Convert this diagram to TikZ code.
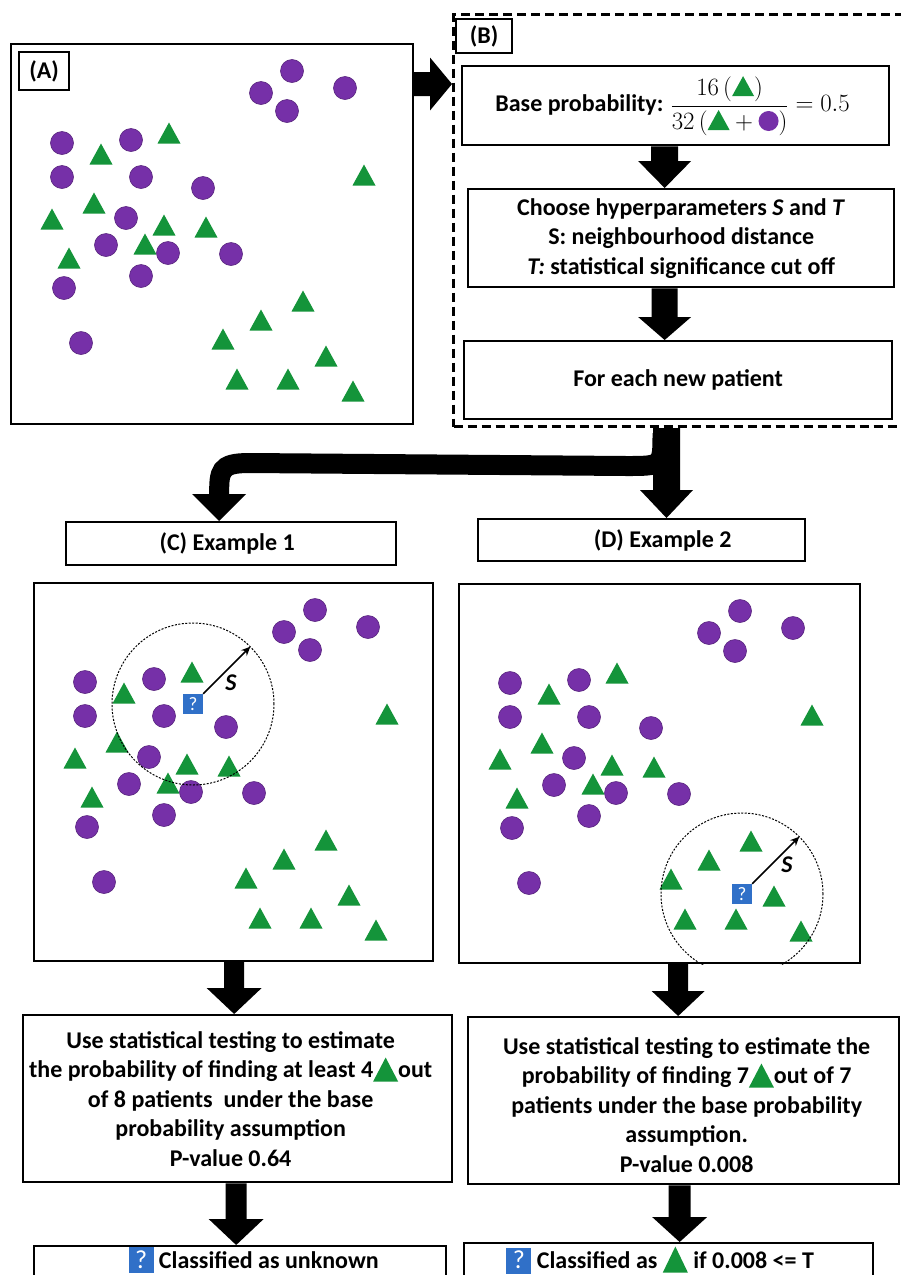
\documentclass[tikz,border=0pt]{standalone}
\usepackage{fontspec}
\setmainfont{Carlito}
\usetikzlibrary{calc,arrows.meta}
\definecolor{trigreen}{RGB}{20,148,58}
\definecolor{dotpurple}{RGB}{118,48,168}
\definecolor{qblue}{RGB}{48,112,200}

\newcommand\tri[3]{\tikz[x=1pt,y=1pt,baseline=#3pt]\fill[trigreen] (0,0) -- (#1,0) -- ({#1/2},#2) -- cycle;}
\newcommand\purpdot{\tikz[x=1pt,y=1pt,baseline=2pt]\fill[dotpurple] (10,10) circle[radius=10pt];}
\newcommand\qicon{{\setlength{\fboxsep}{0pt}\colorbox{qblue}{\makebox[25pt]{\rule[-5pt]{0pt}{26pt}\textcolor{white}{\mdseries\fontsize{26}{26}\selectfont ?}}}}}

\newcommand\blockdown[5]{\fill let \p1=(#1), \p2=(#2) in (\x2-#3,\y1) -- (\x2+#3,\y1) -- (\x2+#3,\y2+#5) -- (\x2+#4,\y2+#5) -- (\x2,\y2) -- (\x2-#4,\y2+#5) -- (\x2-#3,\y2+#5) -- cycle;}
\newcommand\blockright[5]{\fill let \p1=(#1), \p2=(#2) in (\x1,\y2+#3) -- (\x2-#5,\y2+#3) -- (\x2-#5,\y2+#4) -- (\x2,\y2) -- (\x2-#5,\y2-#4) -- (\x2-#5,\y2-#3) -- (\x1,\y2-#3) -- cycle;}

\tikzset{pics/scatterplot/.style={code={
  \foreach \px/\py in {159/90, 91/111, 354/132, 84/160, 42/176, 154/182, 196/184, 135/201, 59/215, 293/258, 251/277, 213/296, 316/313, 227/336, 278/336, 343/348}
    {\fill[trigreen] (\px-11.5,\py+10.5) -- (\px+11.5,\py+10.5) -- (\px,\py-10.5) -- cycle;}
  \foreach \px/\py in {282/28, 251/50, 277/68, 335/45, 52/100, 121/97, 52/134, 131/134, 193/145, 116/175, 96/202, 158/210, 221/211, 131/233, 54/245, 71/300}
    {\filldraw[fill=dotpurple, draw=dotpurple!75!black, line width=0.6pt] (\px,\py) circle[radius=11.5pt];}
}}}

\begin{document}
\begin{tikzpicture}[x=1pt,y=-1pt,
  font=\fontsize{24}{29.5}\selectfont\bfseries,
  box/.style={draw, line width=2.3pt, inner sep=0pt, anchor=north west},
  panel/.style={draw, line width=2pt, inner sep=0pt, anchor=north west},
  dashbox/.style={draw, line width=3pt, dash pattern=on 9pt off 5pt, inner sep=0pt, anchor=north west},
  txt/.style={align=center, inner sep=0pt},
  qsmall/.style={fill=qblue, text=white, minimum size=20pt, inner sep=0pt, font=\fontsize{19}{19}\selectfont\mdseries},
  reach/.style={draw=black, line width=1pt, dash pattern=on 2pt off 1.5pt},
  sarrow/.style={line width=1.6pt, -{Stealth[length=9pt,width=8pt]}},
  slabel/.style={font=\fontsize{24}{24}\selectfont\bfseries\itshape},
  branchband/.style={line width=20pt}]

\useasboundingbox (0,0) rectangle (901,1275);
\fill[white] (0,0) rectangle (901,1275);

% ---------- panel A ----------
\node[panel, minimum width=402pt, minimum height=380pt] (panelA) at (10,43) {};
\pic at (panelA.north west) {scatterplot};
\node[box, minimum width=50pt, minimum height=38pt] (labA) at (18,51) {};
\node[txt] (labAT) at (labA.center) {(A)};

% ---------- panel B ----------
\node[dashbox, minimum width=460pt, minimum height=412pt] (B) at (452,13) {};
\node[box, minimum width=56pt, minimum height=34pt] (labB) at (455,18) {};
\node[txt] (labBT) at (labB.center) {(B)};

\node[box, minimum width=427pt, minimum height=79pt] (base) at (461,65) {};
\node[txt] (baseT) at ($(base.center)+(-3,0)$) {Base probability: $\displaystyle\frac{16\,(\tri{22}{20}{1})}{32\,(\tri{22}{20}{1}+\purpdot)}=0.5$};

\node[box, minimum width=426pt, minimum height=98pt] (choose) at (467,188) {};
\node[txt] (chooseT) at (choose.center) {Choose hyperparameters \textit{S} and \textit{T}\\S: neighbourhood distance\\\textit{T:} statistical significance cut off};

\node[box, minimum width=428pt, minimum height=78pt] (each) at (463,340) {};
\node[txt] (eachT) at (each.center) {For each new patient};

% ---------- arrows in top part ----------
\blockright{panelA.east}{$(B.north west)+(0,71)$}{12pt}{26.5pt}{22pt}
\blockdown{base.south}{$(choose.north)+(-16.5,0)$}{13.5pt}{26.5pt}{27pt}
\blockdown{choose.south}{$(each.north)+(-13.5,0)$}{13pt}{26.5pt}{23pt}

% ---------- example headers ----------
\node[box, minimum width=330pt, minimum height=43pt] (boxC) at (65,521) {};
\node[txt] (boxCT) at ($(boxC.center)+(-4,0)$) {(C) Example 1};
\node[box, minimum width=327pt, minimum height=42pt] (boxD) at (477,518) {};
\node[txt] (boxDT) at ($(boxD.center)+(21,0)$) {(D) Example 2};

% split arrow
\coordinate (split) at ($(B.south west)+(214.5,0)$);
\coordinate (tipC) at ($(boxC.north)+(-12,0)$);
\blockdown{split}{split |- boxD.north}{13.5pt}{26.5pt}{28pt}
\draw[branchband] ($(split)+(-4,5)$) .. controls ($(split)+(-4,38)$) .. ($(split)+(-40,38)$) -- ($(tipC)+(30,-58)$) .. controls ($(tipC)+(0,-58)$) and ($(tipC)+(0,-50)$) .. ($(tipC)+(0,-25)$);
\fill (tipC) -- ++(-27,-27) -- ++(54,0) -- cycle;

% ---------- panel C ----------
\node[panel, minimum width=399pt, minimum height=378pt] (panelC) at (33,582) {};
\pic at (panelC.north west) {scatterplot};
\node[qsmall] (qC) at ($(panelC.north west)+(160,122)$) {?};
\draw[reach] (qC.center) circle[radius=81pt];
\draw[sarrow] (qC.north east) -- ($(qC.center)+(57.3,-57.3)$);
\node[slabel] (sC) at ($(qC.center)+(38,-21)$) {S};

% ---------- panel D ----------
\node[panel, minimum width=401pt, minimum height=379pt] (panelD) at (458,583) {};
\pic at (panelD.north west) {scatterplot};
\node[qsmall] (qD) at ($(panelD.north west)+(284,311)$) {?};
\begin{scope}
  \clip (panelD.north west) rectangle (panelD.south east);
  \draw[reach] (qD.center) circle[radius=81pt];
\end{scope}
\draw[sarrow] (qD.north east) -- ($(qD.center)+(57.3,-57.3)$);
\node[slabel] (sD) at ($(qD.center)+(45,-29)$) {S};

% ---------- statistics boxes ----------
\node[box, minimum width=429pt, minimum height=167pt] (statC) at (22,1014) {};
\node[txt] (statCT) at ($(statC.center)+(-7,0)$) {Use statistical testing to estimate\\the probability of finding at least 4\tri{25}{24}{4}out\\of 8 patients\ \ under the base\\probability assumption\\P-value 0.64};
\node[box, minimum width=431pt, minimum height=167pt] (statD) at (467,1016) {};
\node[txt] (statDT) at ($(statD.center)+(3,4)$) {Use statistical testing to estimate the\\probability of finding 7\tri{25}{24}{4}out of 7\\patients under the base probability\\assumption.\\P-value 0.008};

\blockdown{panelC.south}{$(statC.north)+(-3.5,0)$}{10pt}{27.5pt}{26pt}
\blockdown{panelD.south}{$(statD.north)+(-5.5,0)$}{10pt}{26.5pt}{25pt}

% ---------- results ----------
\node[box, minimum width=412pt, minimum height=50pt] (resC) at (33,1245) {};
\node[txt] (resCT) at ($(resC.north)+(13.5,15)$) {\qicon\ Classified as unknown};
\node[box, minimum width=409pt, minimum height=50pt] (resD) at (463,1242) {};
\node[txt] (resDT) at ($(resD.north)+(-8.5,18)$) {\qicon\ Classified as \tri{25}{26}{4} if 0.008 <= T};

\blockdown{statC.south}{$(resC.north)+(-4,0)$}{10.5pt}{27.5pt}{26pt}
\blockdown{statD.south}{$(resD.north)+(11,0)$}{11pt}{27.5pt}{25pt}
\end{tikzpicture}
\end{document}
